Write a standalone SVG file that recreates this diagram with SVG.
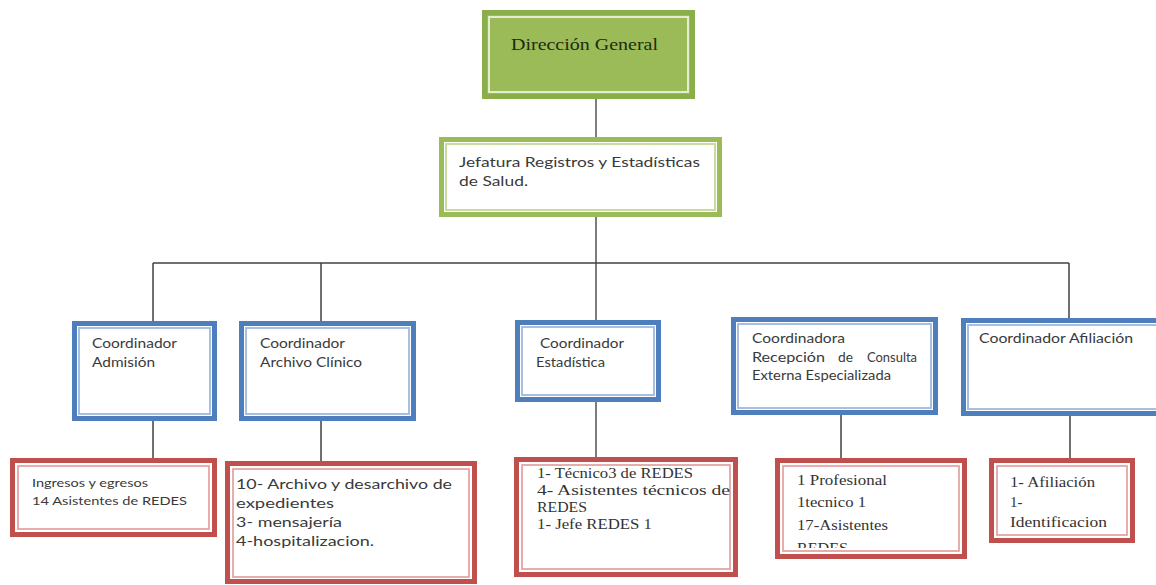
<svg xmlns="http://www.w3.org/2000/svg" width="1156" height="585" viewBox="0 0 1156 585">
<defs>
<style>
.g-out{fill:#9BBB59;stroke:#8AAE4A;stroke-width:5}
.g-in{fill:none;stroke:#E4EDCF;stroke-width:2}
.j-out{fill:#fff;stroke:#9BBB59;stroke-width:5}
.j-in{fill:none;stroke:#C9DBA0;stroke-width:2}
.b-out{fill:#fff;stroke:#4F7EBC;stroke-width:5}
.b-in{fill:none;stroke:#A7BFE0;stroke-width:2}
.r-out{fill:#fff;stroke:#C0504D;stroke-width:5}
.r-in{fill:none;stroke:#E3A5A3;stroke-width:1.8}
.sans{font-family:Lato,"Open Sans","Liberation Sans",sans-serif;fill:#3a3a3a}
.serif{font-family:"Liberation Serif","DejaVu Serif",serif;fill:#333}
.c{font-size:13px}
.conn line{stroke:#404040;stroke-width:1.5}
</style>
<clipPath id="clipProf"><rect x="775" y="458" width="192" height="90"/></clipPath>
</defs>
<rect width="1156" height="585" fill="#fff"/>

<g class="conn" id="connectors">
<line x1="596" y1="99" x2="596" y2="137" style="stroke:#7f7f7f;stroke-width:2"/>
<line x1="596" y1="217" x2="596" y2="320" style="stroke:#6f6f6f;stroke-width:1.8"/>
<line x1="153" y1="263" x2="1069" y2="263"/>
<line x1="153" y1="263" x2="153" y2="321"/>
<line x1="321" y1="263" x2="321" y2="321"/>
<line x1="1069" y1="263" x2="1069" y2="318"/>
<line x1="153" y1="421" x2="153" y2="458"/>
<line x1="321" y1="421" x2="321" y2="461"/>
<line x1="596" y1="402" x2="596" y2="457" style="stroke:#6f6f6f;stroke-width:1.8"/>
<line x1="841" y1="415" x2="841" y2="458"/>
<line x1="1070" y1="416" x2="1070" y2="458"/>
</g>

<g id="direccion">
<rect class="g-out" x="484.5" y="12.5" width="208" height="84"/>
<rect class="g-in" x="489" y="17" width="199" height="75"/>
<text class="serif" x="511" y="50" font-size="17" textLength="147" lengthAdjust="spacingAndGlyphs" style="fill:#1f2a10">Dirección General</text>
</g>

<g id="jefatura">
<rect class="j-out" x="441.5" y="139.5" width="278" height="75"/>
<rect class="j-in" x="446" y="144" width="269" height="66"/>
<text class="sans" font-size="14" x="459" y="167" textLength="241" lengthAdjust="spacingAndGlyphs">Jefatura Registros y Estadísticas</text>
<text class="sans" font-size="14" x="459" y="186" textLength="69" lengthAdjust="spacingAndGlyphs">de Salud.</text>
</g>

<g id="coord-admision">
<rect class="b-out" x="74.5" y="323.5" width="140" height="95"/>
<rect class="b-in" x="79" y="328" width="131" height="86"/>
<text class="sans c" x="92" y="348" textLength="85" lengthAdjust="spacingAndGlyphs">Coordinador</text>
<text class="sans c" x="92" y="367" textLength="63" lengthAdjust="spacingAndGlyphs">Admisión</text>
</g>

<g id="coord-archivo">
<rect class="b-out" x="241.5" y="323.5" width="172" height="95"/>
<rect class="b-in" x="246" y="328" width="163" height="86"/>
<text class="sans c" x="260" y="348" textLength="85" lengthAdjust="spacingAndGlyphs">Coordinador</text>
<text class="sans c" x="260" y="367" textLength="102" lengthAdjust="spacingAndGlyphs">Archivo Clínico</text>
</g>

<g id="coord-estadistica">
<rect class="b-out" x="517.5" y="322.5" width="141" height="77"/>
<rect class="b-in" x="522" y="327" width="132" height="68"/>
<text class="sans c" x="540" y="348" textLength="84" lengthAdjust="spacingAndGlyphs">Coordinador</text>
<text class="sans c" x="536" y="367" textLength="69" lengthAdjust="spacingAndGlyphs">Estadística</text>
</g>

<g id="coord-recepcion">
<rect class="b-out" x="733.5" y="319.5" width="202" height="93"/>
<rect class="b-in" x="738" y="324" width="193" height="84"/>
<text class="sans c" x="752" y="343" textLength="93" lengthAdjust="spacingAndGlyphs">Coordinadora</text>
<text class="sans c" y="362"><tspan x="752" textLength="73" lengthAdjust="spacingAndGlyphs">Recepción</tspan><tspan x="838" textLength="15" lengthAdjust="spacingAndGlyphs">de</tspan><tspan x="867" textLength="50" lengthAdjust="spacingAndGlyphs">Consulta</tspan></text>
<text class="sans c" x="752" y="380" textLength="139" lengthAdjust="spacingAndGlyphs">Externa Especializada</text>
</g>

<g id="coord-afiliacion">
<rect class="b-out" x="963.5" y="320.5" width="200" height="93"/>
<rect class="b-in" x="968" y="325" width="200" height="84"/>
<text class="sans c" x="979" y="343" textLength="154" lengthAdjust="spacingAndGlyphs">Coordinador Afiliación</text>
</g>

<g id="ingresos">
<rect class="r-out" x="12.5" y="460.5" width="202" height="74"/>
<rect class="r-in" x="18" y="466" width="191" height="63"/>
<text class="sans" font-size="12" x="32" y="487" textLength="116" lengthAdjust="spacingAndGlyphs">Ingresos y egresos</text>
<text class="sans" font-size="12" x="32" y="505" textLength="155" lengthAdjust="spacingAndGlyphs">14 Asistentes de REDES</text>
</g>

<g id="archivo">
<rect class="r-out" x="227.5" y="463.5" width="247" height="118"/>
<rect class="r-in" x="233" y="469" width="236" height="108"/>
<text class="sans" font-size="14" x="236" y="489" textLength="216" lengthAdjust="spacingAndGlyphs">10- Archivo y desarchivo de</text>
<text class="sans" font-size="14" x="236" y="508" textLength="98" lengthAdjust="spacingAndGlyphs">expedientes</text>
<text class="sans" font-size="14" x="236" y="527" textLength="106" lengthAdjust="spacingAndGlyphs">3- mensajería</text>
<text class="sans" font-size="14" x="236" y="546" textLength="138" lengthAdjust="spacingAndGlyphs">4-hospitalizacion.</text>
</g>

<g id="tecnico">
<rect class="r-out" x="516.5" y="459.5" width="219" height="115"/>
<rect class="r-in" x="522" y="465" width="208" height="104"/>
<text class="serif" font-size="14" x="537" y="478" textLength="156" lengthAdjust="spacingAndGlyphs">1- Técnico3 de REDES</text>
<text class="serif" font-size="14" x="537" y="495" textLength="193" lengthAdjust="spacingAndGlyphs">4- Asistentes técnicos de</text>
<text class="serif" font-size="14" x="537" y="512" textLength="50" lengthAdjust="spacingAndGlyphs">REDES</text>
<text class="serif" font-size="14" x="537" y="529" textLength="115" lengthAdjust="spacingAndGlyphs">1- Jefe REDES 1</text>
</g>

<g id="profesional">
<rect class="r-out" x="777.5" y="460.5" width="187" height="96"/>
<rect class="r-in" x="783" y="466" width="176" height="85"/>
<g clip-path="url(#clipProf)">
<text class="serif" font-size="15" x="797" y="485" textLength="90" lengthAdjust="spacingAndGlyphs">1 Profesional</text>
<text class="serif" font-size="15" x="797" y="507" textLength="69" lengthAdjust="spacingAndGlyphs">1tecnico 1</text>
<text class="serif" font-size="15" x="797" y="530" textLength="91" lengthAdjust="spacingAndGlyphs">17-Asistentes</text>
<text class="serif" font-size="15" x="797" y="553" textLength="51" lengthAdjust="spacingAndGlyphs">REDES</text>
</g>
</g>

<g id="afiliacion">
<rect class="r-out" x="991.5" y="460.5" width="141" height="80"/>
<rect class="r-in" x="997" y="466" width="130" height="69"/>
<text class="serif" font-size="15" x="1010" y="487" textLength="85" lengthAdjust="spacingAndGlyphs">1- Afiliación</text>
<text class="serif" font-size="15" x="1010" y="507">1-</text>
<text class="serif" font-size="15" x="1010" y="527" textLength="97" lengthAdjust="spacingAndGlyphs">Identificacion</text>
</g>
</svg>
